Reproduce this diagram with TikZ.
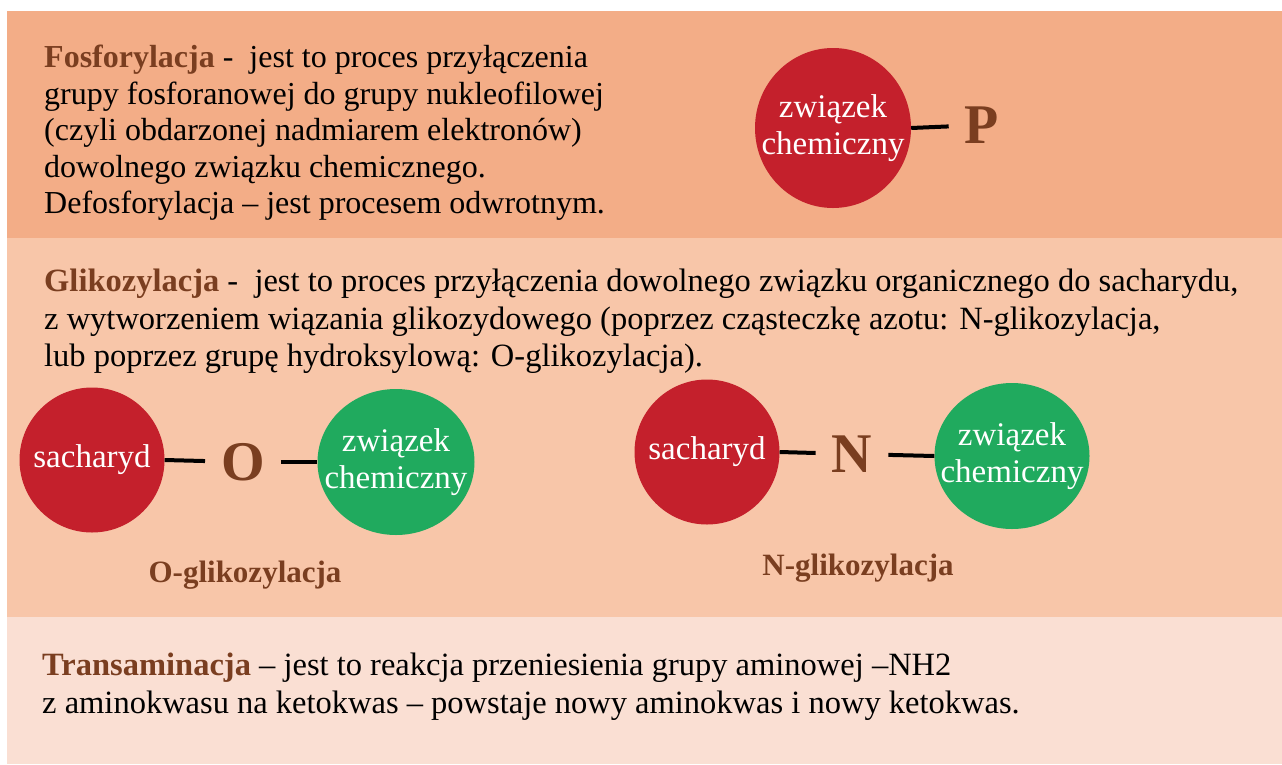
\documentclass[tikz,border=0pt]{standalone}
\usepackage{fontspec}
\setmainfont{Liberation Serif}
\usetikzlibrary{positioning,shapes.geometric}
\definecolor{bandtop}{RGB}{243,173,135}
\definecolor{bandmid}{RGB}{248,198,169}
\definecolor{bandlow}{RGB}{250,223,211}
\definecolor{ballred}{RGB}{196,32,44}
\definecolor{ballgreen}{RGB}{32,170,94}
\definecolor{headbrown}{RGB}{122,62,32}

\begin{document}
\begin{tikzpicture}[
  x=1pt, y=-1pt,
  para/.style={anchor=north west, inner sep=0pt, align=left, font=\fontsize{32}{36.5}\selectfont},
  ball/.style={ellipse, inner xsep=-30pt, inner ysep=-18pt, align=center, text=white, font=\fontsize{33}{37}\selectfont},
  atom/.style={text=headbrown, inner xsep=16pt, inner ysep=0pt, font=\bfseries\fontsize{56}{56}\selectfont},
  bond/.style={line width=4pt},
  caption/.style={text=headbrown, inner sep=0pt, font=\bfseries\fontsize{31}{31}\selectfont}
]
\useasboundingbox (0,0) rectangle (1282,764);
\fill[bandtop] (7,11) rectangle (1282,238);
\fill[bandmid] (7,238) rectangle (1282,617);
\fill[bandlow] (7,617) rectangle (1282,764);

\node[para] (fosfo) at (44,45) {\textbf{\color{headbrown}Fosforylacja} -~ jest to proces przyłączenia\\
grupy fosforanowej do grupy nukleofilowej\\
(czyli obdarzonej nadmiarem elektronów)\\
dowolnego związku chemicznego.\\
Defosforylacja -- jest procesem odwrotnym.};
\node[ball, fill=ballred, minimum width=156pt, minimum height=160pt] (zwP) at (833,128) {związek\\chemiczny};
\node[atom] (P) at (982,125) {P};
\draw[bond] (zwP.east) -- (P);

\node[para, font=\fontsize{32.5}{37.5}\selectfont] (gliko) at (44,269) {\textbf{\color{headbrown}Glikozylacja} -~ jest to proces przyłączenia dowolnego związku organicznego do sacharydu,\\
z wytworzeniem wiązania glikozydowego (poprzez cząsteczkę azotu: N-glikozylacja,\\
lub poprzez grupę hydroksylową: O-glikozylacja).};

\node[ball, fill=ballred, minimum width=145pt, minimum height=145pt] (sachO) at (92,460) {sacharyd};
\node[atom] (O) at (243,462) {O};
\node[ball, fill=ballgreen, minimum width=157pt, minimum height=146pt] (zwO) at (396,462) {związek\\chemiczny};
\draw[bond] (sachO.east) -- (O);
\draw[bond] (O) -- (zwO.west);
\node[caption] (capO) at (245,575) {O-glikozylacja};

\node[ball, fill=ballred, minimum width=145pt, minimum height=145pt] (sachN) at (707,452) {sacharyd};
\node[atom] (N) at (852,454) {N};
\node[ball, fill=ballgreen, minimum width=155pt, minimum height=146pt] (zwN) at (1012,456) {związek\\chemiczny};
\draw[bond] (sachN.east) -- (N);
\draw[bond] (N) -- (zwN.west);
\node[caption] (capN) at (858,568) {N-glikozylacja};

\node[para, font=\fontsize{32.5}{38}\selectfont] (trans) at (42,653) {\textbf{\color{headbrown}Transaminacja} -- jest to reakcja przeniesienia grupy aminowej --NH2\\
z aminokwasu na ketokwas -- powstaje nowy aminokwas i nowy ketokwas.};
\end{tikzpicture}
\end{document}
